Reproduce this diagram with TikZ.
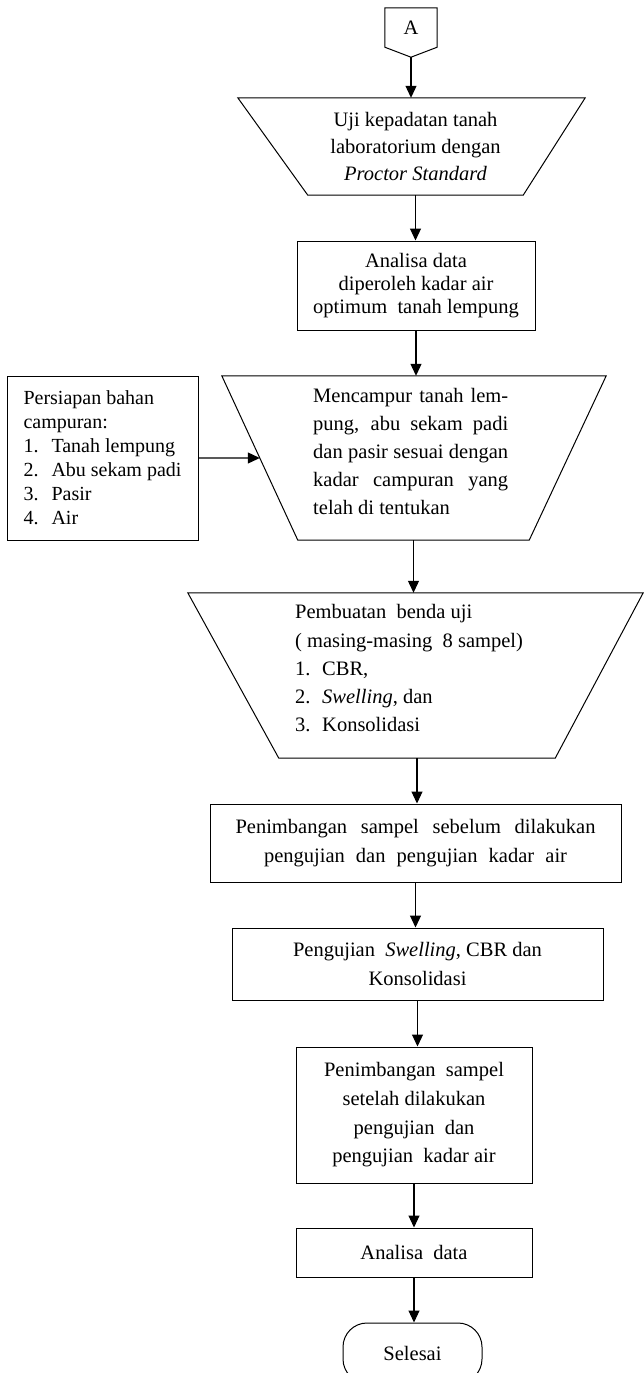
\documentclass[tikz,border=0pt]{standalone}
\usepackage{fontspec}
\setmainfont{Liberation Serif}
\usetikzlibrary{arrows.meta,calc}
\begin{document}
\begin{tikzpicture}[x=1pt,y=-1pt,
  every node/.style={font=\fontsize{20.5}{24}\selectfont},
  outl/.style={draw, line width=1pt},
  boxn/.style={draw, line width=1pt, align=center, inner sep=0pt},
  hold/.style={inner sep=0pt},
  txt/.style={anchor=west, align=left, inner sep=0pt},
  arr/.style={line width=1.1pt, -{Triangle[length=12pt,width=11pt]}},
  ]
\useasboundingbox (0,0) rectangle (643,1373);

% off-page connector A
\node[hold, minimum width=52pt, minimum height=39pt] (A) at (411,27.5) {A};
\draw[outl] (A.south west) -- (A.north west) -- (A.north east) -- (A.south east)
  -- ($(A.south)+(0,10)$) coordinate (Atip) -- cycle;

% trapezoid 1
\node[hold, minimum width=215pt, minimum height=97pt, align=center,
  font=\fontsize{20.5}{27}\selectfont] (t1) at (415.5,146.5)
  {Uji kepadatan tanah\\laboratorium\ dengan\\\textit{Proctor Standard}};
\draw[outl] ($(t1.north west)+(-70,0)$) -- ($(t1.north east)+(62,0)$)
  -- (t1.south east) -- (t1.south west) -- cycle;

% box 2
\node[boxn, minimum width=238pt, minimum height=89pt,
  font=\fontsize{20.5}{23.3}\selectfont] (b2) at (416,285.5)
  {Analisa data\\diperoleh\ kadar air\\optimum\ \ tanah lempung};

% left box
\node[boxn, align=left, minimum width=191pt, minimum height=164pt,
  font=\fontsize{20}{24}\selectfont] (lb) at (102.5,458)
  {Persiapan bahan\\campuran:\\\makebox[28pt][l]{1.}Tanah lempung\\
   \makebox[28pt][l]{2.}Abu sekam padi\\\makebox[28pt][l]{3.}Pasir\\
   \makebox[28pt][l]{4.}Air};

% trapezoid 3
\node[hold, minimum width=231pt, minimum height=164pt] (t3) at (413.5,458) {};
\draw[outl] ($(t3.north west)+(-76,0)$) coordinate (t3tl) -- ($(t3.north east)+(77,0)$)
  -- (t3.south east) -- (t3.south west) -- cycle;
\node[txt, font=\fontsize{20.5}{28}\selectfont] (t3txt) at (313,451)
  {\makebox[195pt][s]{Mencampur tanah lem-}\\
   \makebox[195pt][s]{pung, abu sekam padi}\\
   \makebox[195pt][s]{dan pasir sesuai dengan}\\
   \makebox[195pt][s]{kadar campuran yang}\\
   telah di tentukan};
\coordinate (t3in) at ($(t3tl)!0.5!(t3.south west)$);

% trapezoid 4
\node[hold, minimum width=276pt, minimum height=165pt] (t4) at (417,675.5) {};
\draw[outl] ($(t4.north west)+(-91,0)$) -- ($(t4.north east)+(88,0)$)
  -- (t4.south east) -- (t4.south west) -- cycle;
\node[txt, font=\fontsize{20.5}{28.25}\selectfont] (t4txt) at (295,668.5)
  {Pembuatan\ \ benda uji\\( masing-masing\ \ 8 sampel)\\
   \makebox[27pt][l]{1.}CBR,\\\makebox[27pt][l]{2.}\textit{Swelling}, dan\\
   \makebox[27pt][l]{3.}Konsolidasi};

% box 5
\node[boxn, minimum width=411pt, minimum height=78pt,
  font=\fontsize{20.5}{29}\selectfont] (b5) at (415.5,843)
  {\makebox[360pt][s]{Penimbangan sampel sebelum dilakukan}\\
   \makebox[303pt][s]{pengujian dan pengujian kadar air}};

% box 6
\node[boxn, minimum width=371pt, minimum height=72pt,
  font=\fontsize{20.5}{29}\selectfont] (b6) at (417.5,964)
  {Pengujian\ \ \textit{Swelling}, CBR dan\\Konsolidasi};

% box 7
\node[boxn, minimum width=236pt, minimum height=136pt,
  font=\fontsize{20.5}{28.7}\selectfont] (b7) at (414,1115)
  {Penimbangan\ \ sampel\\setelah\ dilakukan\\pengujian\ \ dan\\pengujian\ \ kadar air};

% box 8
\node[boxn, minimum width=236pt, minimum height=49pt] (b8) at (414,1252.5)
  {Analisa\ \ data};

% terminal
\node[draw, line width=1pt, rounded corners=24pt, minimum width=139pt,
  minimum height=60pt, inner sep=0pt] (term) at (412.5,1353) {Selesai};

% connectors
\draw[arr] (Atip) -- (Atip |- t1.north);
\draw[arr] (t1.south) -- (t1.south |- b2.north);
\draw[arr] (b2.south) -- (b2.south |- t3.north);
\draw[arr] (lb.east) -- (t3in);
\draw[arr] (t3.south) -- (t3.south |- t4.north);
\draw[arr] (t4.south) -- (t4.south |- b5.north);
\draw[arr] (b5.south) -- (b5.south |- b6.north);
\draw[arr] (b6.south) -- (b6.south |- b7.north);
\draw[arr] (b7.south) -- (b7.south |- b8.north);
\draw[arr] (b8.south) -- (b8.south |- term.north);
\end{tikzpicture}
\end{document}
